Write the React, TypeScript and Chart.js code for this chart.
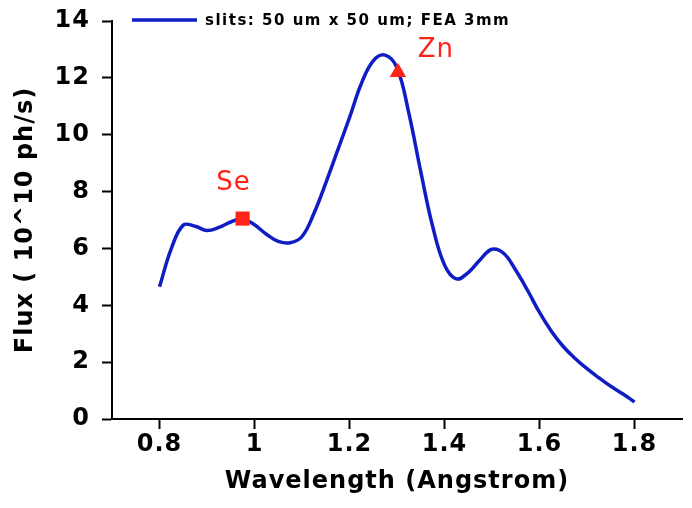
import React, { useEffect, useRef } from "react";
import { Chart, registerables } from "chart.js";

Chart.register(...registerables);

const wavelength = [
  0.8, 0.825, 0.85, 0.875, 0.9, 0.925, 0.95, 0.975, 1.0, 1.025, 1.05, 1.075,
  1.1, 1.125, 1.15, 1.175, 1.2, 1.225, 1.25, 1.275, 1.3, 1.325, 1.35, 1.375,
  1.4, 1.425, 1.45, 1.475, 1.5, 1.525, 1.55, 1.575, 1.6, 1.625, 1.65, 1.675,
  1.7, 1.725, 1.75, 1.775, 1.8,
];
const flux = [
  4.65, 6.0, 6.82, 6.78, 6.63, 6.74, 6.93, 7.04, 6.83, 6.5, 6.25, 6.2,
  6.42, 7.23, 8.3, 9.45, 10.6, 11.8, 12.6, 12.8, 12.35, 10.75, 8.7, 6.78,
  5.42, 4.93, 5.15, 5.6, 5.97, 5.82, 5.23, 4.52, 3.75, 3.09, 2.55, 2.13,
  1.77, 1.45, 1.15, 0.89, 0.6,
];

const seriesLabel = "slits: 50 um x 50 um; FEA 3mm";
const markerNames = ["Se", "Zn"];
const markerX = [0.975, 1.302];
const markerY = [7.05, 12.2];
const markerStyles = ["rect", "triangle"];
const labelX = [0.956, 1.382];
const labelY = [8.3, 12.98];

const xTicks = [0.8, 1.0, 1.2, 1.4, 1.6, 1.8];
const xMin = 0.7;
const xMax = 1.9;
const yMin = 0;
const yMax = 14;
const yStep = 2;

const BLUE = "#0f1dc4";
const RED = "#ff2418";
const FONT = "'DejaVu Sans', sans-serif";

export default function App() {
  const ref = useRef<HTMLCanvasElement | null>(null);

  useEffect(() => {
    const canvas = ref.current;
    if (!canvas) return;

    const spacingPlugin = {
      id: "spacing",
      beforeDraw(chart: any) {
        (chart.ctx as any).letterSpacing = "1px";
      },
    };

    const annotPlugin = {
      id: "annot",
      afterDraw(chart: any) {
        const ctx = chart.ctx;
        const xs = chart.scales.x;
        const ys = chart.scales.y;
        const area = chart.chartArea;
        ctx.save();
        (ctx as any).letterSpacing = "1px";
        ctx.fillStyle = RED;
        ctx.font = `normal 26px ${FONT}`;
        ctx.textAlign = "center";
        ctx.textBaseline = "middle";
        markerNames.forEach((n, i) => {
          ctx.fillText(n, xs.getPixelForValue(labelX[i]), ys.getPixelForValue(labelY[i]));
        });
        // legend
        const ly = area.top - 1;
        ctx.strokeStyle = BLUE;
        ctx.lineWidth = 3.5;
        ctx.beginPath();
        ctx.moveTo(area.left + 20, ly);
        ctx.lineTo(area.left + 85, ly);
        ctx.stroke();
        (ctx as any).letterSpacing = "1.5px";
        ctx.fillStyle = "#000";
        ctx.font = `bold 15px ${FONT}`;
        ctx.textAlign = "left";
        ctx.fillText(seriesLabel, area.left + 93, ly + 1);
        ctx.restore();
      },
    };

    const chart = new Chart(canvas, {
      type: "scatter",
      data: {
        datasets: [
          {
            label: "markers",
            data: markerX.map((x, i) => ({ x, y: markerY[i] })),
            pointStyle: markerStyles as any,
            pointRadius: [10, 9.5],
            backgroundColor: RED,
            borderColor: RED,
            borderWidth: 0,
            order: 0,
          },
          {
            label: seriesLabel,
            data: wavelength.map((x, i) => ({ x, y: flux[i] })),
            showLine: true,
            borderColor: BLUE,
            borderWidth: 3.5,
            pointRadius: 0,
            tension: 0.4,
            order: 1,
          } as any,
        ],
      },
      options: {
        animation: false,
        responsive: false,
        devicePixelRatio: 1,
        layout: { padding: { top: 21, right: 9, left: 0, bottom: 0 } },
        plugins: {
          legend: { display: false },
          tooltip: { enabled: false },
        },
        scales: {
          x: {
            type: "linear",
            min: xMin,
            max: xMax,
            afterBuildTicks: (scale: any) => {
              scale.ticks = xTicks.map((v) => ({ value: v }));
            },
            afterFit: (scale: any) => {
              scale.height = 89;
              scale.paddingLeft = 0;
              scale.paddingRight = 0;
            },
            grid: {
              display: true,
              drawOnChartArea: false,
              drawTicks: true,
              tickLength: 10,
              tickWidth: 2,
              tickColor: "#000",
            },
            border: { display: true, color: "#000", width: 2 },
            ticks: {
              color: "#000",
              font: { family: FONT, size: 24, weight: "bold" },
              padding: 1,
              maxRotation: 0,
              callback: (v: any) => String(Number(Number(v).toFixed(1))),
            },
            title: {
              display: true,
              text: "Wavelength (Angstrom)",
              color: "#000",
              font: { family: FONT, size: 24, weight: "bold", lineHeight: 1.2 },
              padding: { top: 0, bottom: 12 },
            },
          },
          y: {
            type: "linear",
            min: yMin,
            max: yMax,
            afterFit: (scale: any) => {
              scale.width = 112;
              scale.paddingTop = 0;
              scale.paddingBottom = 0;
            },
            grid: {
              display: true,
              drawOnChartArea: false,
              drawTicks: true,
              tickLength: 10,
              tickWidth: 2,
              tickColor: "#000",
            },
            border: { display: true, color: "#000", width: 2 },
            ticks: {
              stepSize: yStep,
              color: "#000",
              font: { family: FONT, size: 24, weight: "bold" },
              padding: 12,
            },
            title: {
              display: true,
              text: "Flux ( 10^10 ph/s)",
              color: "#000",
              font: { family: FONT, size: 24, weight: "bold", lineHeight: 1.2 },
              padding: { top: 11, bottom: 0 },
            },
          },
        },
      },
      plugins: [spacingPlugin, annotPlugin],
    } as any);

    return () => chart.destroy();
  }, []);

  return (
    <div style={{ position: "fixed", left: 0, top: 0, width: 692, height: 508, background: "#fff" }}>
      <canvas ref={ref} width={692} height={508} style={{ display: "block" }} />
    </div>
  );
}
